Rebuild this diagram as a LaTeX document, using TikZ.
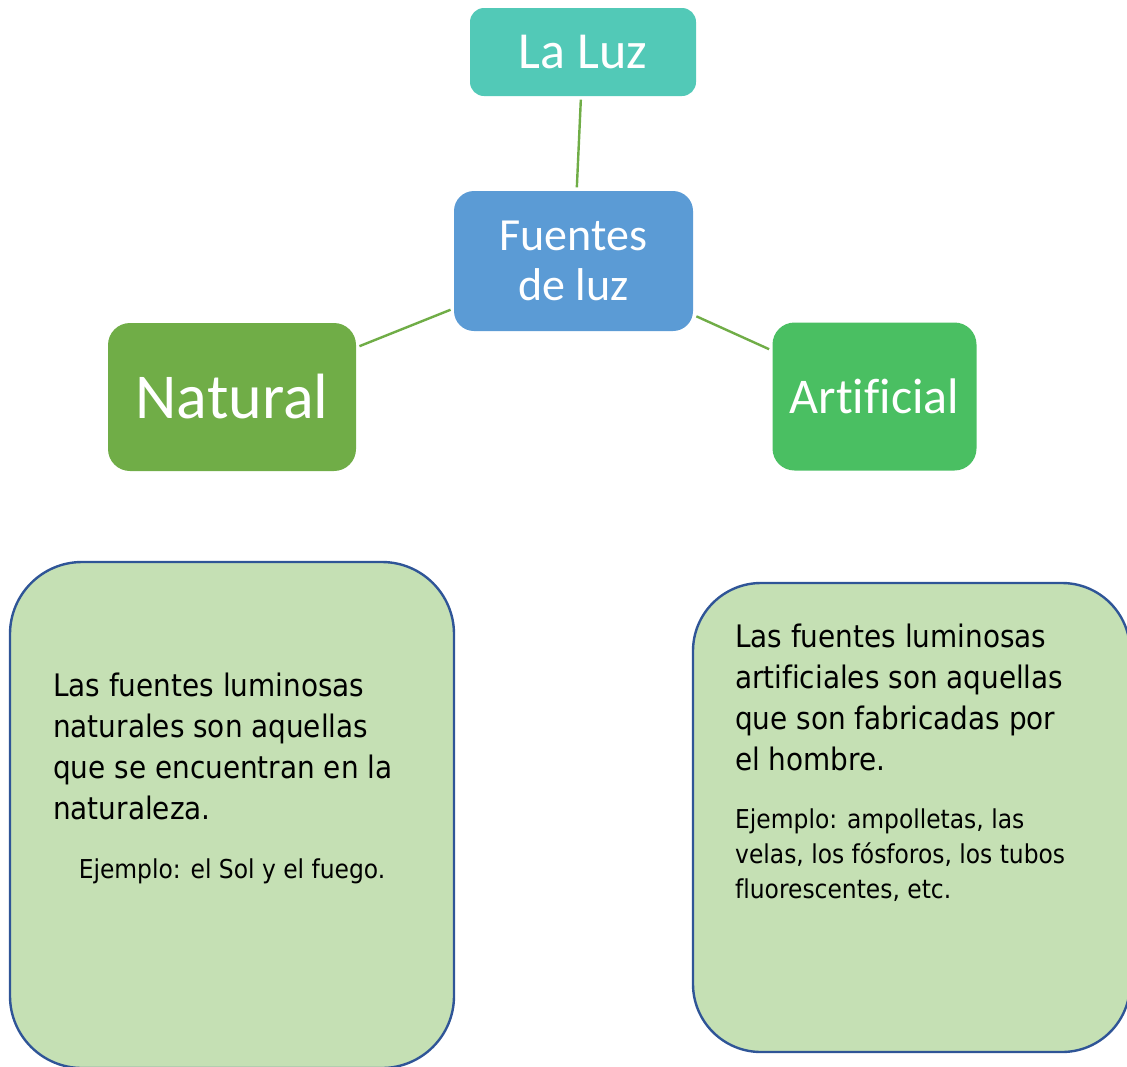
\documentclass[tikz,border=0pt]{standalone}
\usepackage{fontspec}
\setmainfont{Carlito}[Ligatures=NoCommon]
\newfontfamily\bodyfont{DejaVu Sans Condensed}[Ligatures=NoCommon]
\usepackage{tikz}
\usetikzlibrary{positioning}

\definecolor{luzteal}{HTML}{52C9B7}
\definecolor{fuenteblue}{HTML}{5B9BD5}
\definecolor{natgreen}{HTML}{70AD47}
\definecolor{artgreen}{HTML}{4ABF62}
\definecolor{boxfill}{HTML}{C5E0B4}
\definecolor{boxline}{HTML}{2F5597}

\begin{document}
\begin{tikzpicture}[x=1pt,y=-1pt,
  topbox/.style={rounded corners=14pt,text=white,inner sep=0pt,align=center},
  link/.style={draw=natgreen,line width=2.4pt,shorten <=3.5pt,shorten >=3.5pt},
  infobox/.style={draw=boxline,line width=2.4pt,fill=boxfill,rounded corners=72pt},
  infotext/.style={inner sep=0pt,align=left,anchor=north west}]
  \useasboundingbox (0,0) rectangle (1127,1066);
  \clip (0,0) rectangle (1127,1066);
  %top
  \node[topbox,fill=luzteal,minimum width=226pt,minimum height=88pt,font=\fontsize{52}{52}\selectfont] (laluz) at (583,52) {La Luz};
  \node[topbox,fill=fuenteblue,rounded corners=20pt,minimum width=239pt,minimum height=140pt,font=\fontsize{46}{50}\selectfont] (fuentes) at (573.5,261) {Fuentes\\de luz};
  %left and right
  \node[topbox,fill=natgreen,rounded corners=22pt,minimum width=248pt,minimum height=148pt,font=\fontsize{64}{64}\selectfont] (natural) at (232,397) {Natural};
  \node[topbox,fill=artgreen,rounded corners=22pt,minimum width=204pt,minimum height=148pt,font=\fontsize{50}{50}\selectfont] (artificial) at (874.5,396.5) {Artificial};
  \draw[link] (laluz) -- (fuentes);
  \draw[link] (natural) -- (fuentes);
  \draw[link] (fuentes) -- (artificial);

  %bottom left
  \draw[infobox] (10,562) rectangle (454,1068);
  \node[infotext,font=\bodyfont\fontsize{31}{41}\selectfont] (natdef) at (53,672.5) {Las fuentes luminosas\\naturales son aquellas\\que se encuentran en la\\naturaleza.};
  \node[inner sep=0pt,anchor=base,font=\bodyfont\fontsize{26}{35}\selectfont] (natej) at (232,878) {Ejemplo: el Sol y el fuego.};
  %bottom right
  \draw[infobox,rounded corners=68pt] (693,583) rectangle (1130,1052);
  \node[infotext,font=\bodyfont\fontsize{31}{41}\selectfont] (artdef) at (735,623.4) {Las fuentes luminosas\\artificiales son aquellas\\que son fabricadas por\\el hombre.};
  \node[infotext,font=\bodyfont\fontsize{26}{35}\selectfont] (artej) at (735,808.2) {Ejemplo: ampolletas, las\\velas, los fósforos, los tubos\\fluorescentes, etc.};
\end{tikzpicture}
\end{document}
